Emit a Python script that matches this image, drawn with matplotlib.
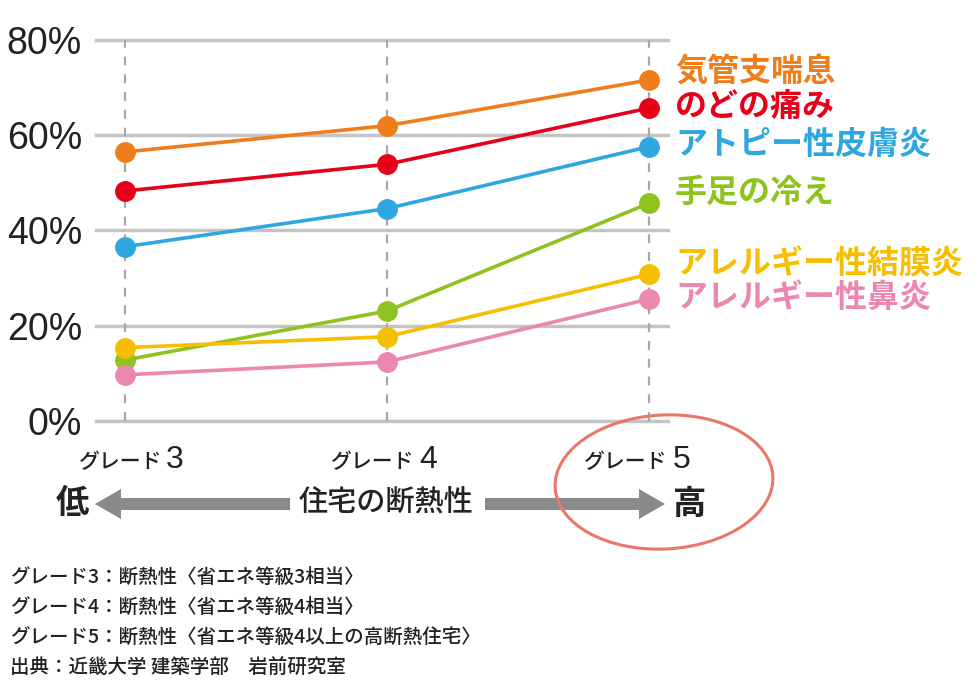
import matplotlib
matplotlib.use("Agg")
import matplotlib.pyplot as plt
from matplotlib.patches import Ellipse, FancyArrow

plt.rcParams['font.family'] = ['Noto Sans CJK JP', 'DejaVu Sans']

# ---- data ----
grades = [3, 4, 5]
grade_labels = ["グレード", "グレード", "グレード"]
series_names = ["気管支喘息", "のどの痛み", "アトピー性皮膚炎", "手足の冷え",
                "アレルギー性結膜炎", "アレルギー性鼻炎"]
asthma = [56.5, 62.0, 71.6]
throat = [48.3, 53.9, 65.7]
atopy = [36.6, 44.6, 57.6]
cold_limbs = [12.8, 23.1, 45.7]
conjunctivitis = [15.4, 17.7, 30.8]
rhinitis = [9.7, 12.4, 25.6]
yticks = [0, 20, 40, 60, 80]
ytick_labels = ["0%", "20%", "40%", "60%", "80%"]
footnotes = ["グレード3：断熱性〈省エネ等級3相当〉",
             "グレード4：断熱性〈省エネ等級4相当〉",
             "グレード5：断熱性〈省エネ等級4以上の高断熱住宅〉",
             "出典：近畿大学 建築学部　岩前研究室"]

values = [asthma, throat, atopy, cold_limbs, conjunctivitis, rhinitis]
colors = ["#EE7D1A", "#E60019", "#2EA7E0", "#8DC21F", "#F6BE00", "#EC87B0"]

W, H = 979, 686
fig = plt.figure(figsize=(W / 100, H / 100), dpi=100)
fig.patch.set_facecolor("white")

# main axes
ax = fig.add_axes([96 / W, 1 - 421 / H, (668 - 96) / W, (421 - 40) / H])
ax.set_xlim(2.889, 5.073)
ax.set_ylim(0, 80)
for s in ax.spines.values():
    s.set_visible(False)
ax.set_xticks([])
ax.set_yticks(yticks)
ax.set_yticklabels(ytick_labels, family="Liberation Sans", fontsize=27, color="#222222")
ax.tick_params(axis="y", length=0, pad=10)
for y in yticks:
    ax.axhline(y, color="#c4c4c4", lw=2.5, zorder=1, clip_on=False)
for g in grades:
    ax.axvline(g, color="#a8a8a8", lw=1.6, ls=(0, (4, 4)), zorder=1)

for vals, c in zip(values, colors):
    ax.plot(grades, vals, color=c, lw=2.6, marker="o", ms=14, zorder=3, clip_on=False)

# overlay for annotations (pixel coords)
ov = fig.add_axes([0, 0, 1, 1])
ov.set_xlim(0, W)
ov.set_ylim(H, 0)
ov.axis("off")
ov.patch.set_alpha(0)

label_y = [73, 107, 145, 193, 264, 298]
for name, c, yy in zip(series_names, colors, label_y):
    ov.text(675, yy, name, color=c, fontsize=23, fontweight="bold", va="center", ha="left")

# grade labels
kana_right = [162, 414, 667]
num_left = [166, 419, 673]
for k, (g, lab) in enumerate(zip(grades, grade_labels)):
    ov.text(kana_right[k], 468, lab, fontsize=15, fontweight="medium", color="#222222",
            ha="right", va="baseline")
    ov.text(num_left[k], 468, str(g), family="Liberation Sans", fontsize=23,
            color="#222222", ha="left", va="baseline")

# arrow row
ov.text(72, 504, "低", fontsize=24, fontweight="bold", color="#222222", ha="center", va="center")
ov.text(690, 504, "高", fontsize=24, fontweight="bold", color="#222222", ha="center", va="center")
ov.text(386, 502, "住宅の断熱性", fontsize=21, fontweight="medium", color="#222222",
        ha="center", va="center")
ov.add_patch(FancyArrow(290, 504, -195, 0, width=12, head_width=30, head_length=26,
                        length_includes_head=True, color="#8a8a8a", lw=0))
ov.add_patch(FancyArrow(485, 504, 180, 0, width=12, head_width=30, head_length=26,
                        length_includes_head=True, color="#8a8a8a", lw=0))

# hand-drawn circle
ov.add_patch(Ellipse((664, 482), 218, 134, angle=-3, fill=False, ec="#E8776A", lw=2.2))

# footnotes
for i, t in enumerate(footnotes):
    ov.text(10, 578 + i * 30, t, fontsize=14, fontweight="medium", color="#222222",
            ha="left", va="center")

fig.savefig("out.png", dpi=100, facecolor="white")
